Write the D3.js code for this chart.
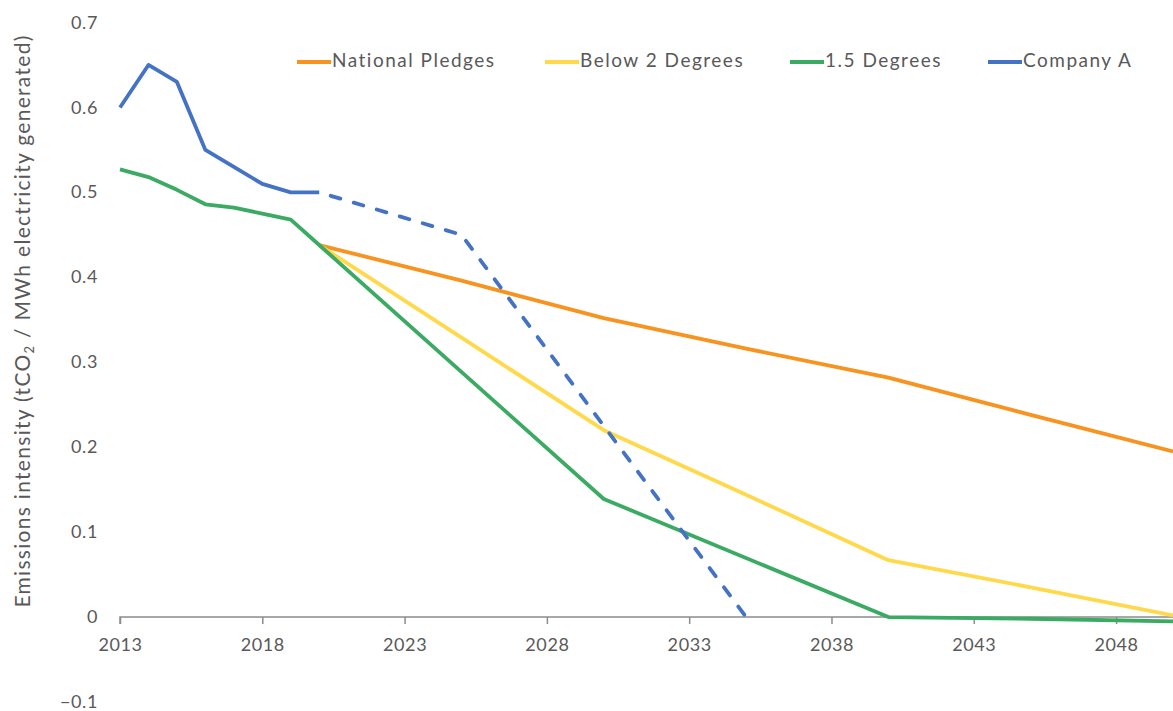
<!DOCTYPE html>
<html>
<head>
<meta charset="utf-8">
<script src="https://cdn.jsdelivr.net/npm/d3@7"></script>
<style>
  html, body { margin: 0; padding: 0; background: #fff; }
  svg { display: block; font-family: Lato, "Open Sans", sans-serif; }
</style>
</head>
<body>
<svg id="chart" width="1173" height="711"></svg>
<script>
// ---- Data ----
const yTicks = [-0.1, 0, 0.1, 0.2, 0.3, 0.4, 0.5, 0.6, 0.7];
const xTicks = [2013, 2018, 2023, 2028, 2033, 2038, 2043, 2048];

const nationalYears  = [2020, 2025, 2030, 2035, 2040, 2045, 2050];
const nationalValues = [0.438, 0.396, 0.352, 0.316, 0.282, 0.238, 0.195];

const below2Years  = [2020, 2025, 2030, 2035, 2040, 2045, 2050];
const below2Values = [0.438, 0.329, 0.220, 0.144, 0.067, 0.035, 0.002];

const deg15Years  = [2013, 2014, 2015, 2016, 2017, 2018, 2019, 2020, 2030, 2040, 2045, 2050];
const deg15Values = [0.527, 0.518, 0.503, 0.486, 0.482, 0.475, 0.468, 0.438, 0.139, 0.0, -0.002, -0.005];

const companyYears  = [2013, 2014, 2015, 2016, 2017, 2018, 2019, 2020];
const companyValues = [0.60, 0.65, 0.63, 0.55, 0.53, 0.51, 0.50, 0.50];

const companyTargetYears  = [2020, 2025, 2035];
const companyTargetValues = [0.50, 0.45, 0.0];

const seriesNames  = ["National Pledges", "Below 2 Degrees", "1.5 Degrees", "Company A"];
const seriesColors = ["#F7931E", "#FFD94A", "#3BAA63", "#4472C4"];

// ---- Layout ----
const svg = d3.select("#chart");
const textColor = "#595959";
const axisColor = "#8C8C8C";

const x = d3.scaleLinear().domain([2013, 2050]).range([120, 1173]);
const y = d3.scaleLinear().domain([-0.1, 0.7]).range([702, 22.5]);

const zip = (xs, vs) => xs.map((d, i) => ({ year: d, value: vs[i] }));
const line = d3.line().x(d => x(d.year)).y(d => y(d.value));

// Y tick labels (no axis line)
svg.append("g").selectAll("text").data(yTicks).join("text")
  .attr("x", 98)
  .attr("y", d => y(d) + 1.5)
  .attr("text-anchor", "end")
  .attr("dominant-baseline", "middle")
  .attr("fill", textColor)
  .attr("font-size", 18)
  .attr("letter-spacing", 0.6)
  .text(d => d === 0 ? "0" : d3.format(".1f")(d));

// X axis at y = 0
const xAxis = d3.axisBottom(x).tickValues(xTicks).tickSize(7).tickPadding(14)
  .tickFormat(d3.format("d"));
const gx = svg.append("g").attr("transform", `translate(0,${y(0)})`).call(xAxis);
gx.select(".domain").attr("stroke", axisColor).attr("stroke-width", 1.5)
  .attr("d", `M${x(2013)},7V0H${x(2050)}`);
gx.selectAll(".tick line").attr("stroke", axisColor).attr("stroke-width", 1.5);
gx.selectAll(".tick text").attr("fill", textColor).attr("font-size", 18)
  .attr("font-family", "Lato, sans-serif").attr("letter-spacing", 0.6);

// Y axis title
const title = svg.append("text")
  .attr("transform", `translate(30,321) rotate(-90)`)
  .attr("text-anchor", "middle")
  .attr("fill", textColor)
  .attr("font-size", 21)
  .attr("letter-spacing", 1.3);
title.append("tspan").text("Emissions intensity (tCO");
title.append("tspan").attr("font-size", 13).attr("dy", 4).text("2");
title.append("tspan").attr("dy", -4).text(" / MWh electricity generated)");

// Series lines
const plot = svg.append("g").attr("fill", "none").attr("stroke-width", 3.8)
  .attr("stroke-linejoin", "round");

plot.append("path").datum(zip(nationalYears, nationalValues))
  .attr("d", line).attr("stroke", seriesColors[0]);
plot.append("path").datum(zip(below2Years, below2Values))
  .attr("d", line).attr("stroke", seriesColors[1]);
plot.append("path").datum(zip(deg15Years, deg15Values))
  .attr("d", line).attr("stroke", seriesColors[2]);
plot.append("path").datum(zip(companyYears, companyValues))
  .attr("d", line).attr("stroke", seriesColors[3]);
plot.append("path").datum(zip(companyTargetYears, companyTargetValues))
  .attr("d", line).attr("stroke", seriesColors[3])
  .attr("stroke-linecap", "round")
  .attr("stroke-dasharray", "10 14")
  .attr("stroke-dashoffset", -12);

// Legend
const legendX = [297, 545, 790, 988];
const legend = svg.append("g").selectAll("g").data(seriesNames).join("g")
  .attr("transform", (d, i) => `translate(${legendX[i]},62)`);
legend.append("line").attr("x1", 0).attr("x2", 34).attr("y1", 0).attr("y2", 0)
  .attr("stroke", (d, i) => seriesColors[i]).attr("stroke-width", 4);
legend.append("text").attr("x", 35).attr("y", 0)
  .attr("dominant-baseline", "middle")
  .attr("fill", textColor).attr("font-size", 19)
  .attr("letter-spacing", 1.5)
  .text(d => d);
</script>
</body>
</html>
